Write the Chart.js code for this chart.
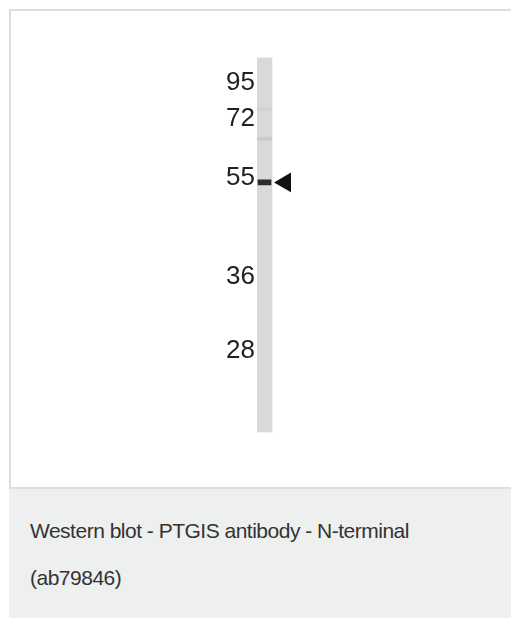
<!DOCTYPE html>
<html>
<head>
<meta charset="utf-8">
<script src="https://cdn.jsdelivr.net/npm/chart.js@4/dist/chart.umd.min.js"></script>
<style>
  html, body { margin:0; padding:0; background:#fff; width:511px; height:618px; overflow:hidden; }
  #card { position:absolute; left:9px; top:9px; width:520px; height:476px; border-left:2px solid #dedede; border-top:2px solid #dedede; border-bottom:2px solid #dedede; background:#fff; }
  #caption { position:absolute; left:9px; top:489px; width:520px; height:129px; background:#eeefef; font-family:"Liberation Sans", Arial, sans-serif; color:#333; font-size:21px; letter-spacing:-0.5px; }
  #caption .l1 { position:absolute; left:21px; top:30px; line-height:24px; white-space:nowrap; }
  #caption .l2 { position:absolute; left:21px; top:77px; line-height:24px; white-space:nowrap; }
  #wrap { position:absolute; left:200px; top:40px; width:120px; height:410px; }
</style>
</head>
<body>
<div id="card"></div>
<div id="caption"><div class="l1">Western blot - PTGIS antibody - N-terminal</div><div class="l2">(ab79846)</div></div>
<div id="wrap"><canvas id="c" width="120" height="410"></canvas></div>
<script>
// Molecular weight markers (kDa) and their relative migration (0 = lane top, 1 = lane bottom)
const markerLabels = ["95", "72", "55", "36", "28"];
const markerRf = [0.066, 0.163, 0.321, 0.584, 0.782];
// Lane (single sample lane)
const laneRange = [0, 1];
// Detected bands: [start, end] in relative migration
const mainBand = [0.326, 0.340];
const faintBandA = [0.134, 0.140];
const faintBandB = [0.213, 0.220];
// Arrow marking the target band
const arrowRf = 0.333;

const LANE_X = 0.5, ARROW_X = 1.89;

new Chart(document.getElementById('c'), {
  type: 'bar',
  data: {
    datasets: [
      { data: [{ x: LANE_X, y: mainBand }], backgroundColor: 'rgba(28,28,28,0.92)', grouped: false, barThickness: 13, order: 1 },
      { data: [{ x: LANE_X, y: faintBandA }], backgroundColor: 'rgba(170,170,170,0.18)', grouped: false, barThickness: 15, order: 2 },
      { data: [{ x: LANE_X, y: faintBandB }], backgroundColor: 'rgba(150,150,150,0.22)', grouped: false, barThickness: 15, order: 3 },
      { data: [{ x: LANE_X, y: laneRange }], backgroundColor: '#d9d9d9', grouped: false, barThickness: 15, order: 4 },
      { type: 'scatter', data: [{ x: ARROW_X, y: arrowRf }],
        pointStyle: 'triangle', rotation: -90, radius: 11.3, hoverRadius: 11.3,
        backgroundColor: '#111', borderColor: '#111', borderWidth: 0, clip: false, order: 0 }
    ]
  },
  options: {
    responsive: false,
    animation: false,
    events: [],
    layout: { padding: { left: 0, right: 18, top: 15, bottom: 15 } },
    plugins: { legend: { display: false }, tooltip: { enabled: false } },
    scales: {
      x: { type: 'linear', display: false, min: 0, max: 3, offset: false },
      y: {
        min: 0, max: 1, reverse: true,
        grid: { display: false, drawTicks: false },
        border: { display: false },
        afterBuildTicks: s => { s.ticks = markerRf.map(v => ({ value: v })); },
        afterFit: s => { s.width = 57; },
        ticks: {
          autoSkip: false, padding: 2, color: '#222',
          font: { family: 'Liberation Sans', size: 26 },
          callback: (v, i) => markerLabels[i]
        }
      }
    }
  }
});
</script>
</body>
</html>
